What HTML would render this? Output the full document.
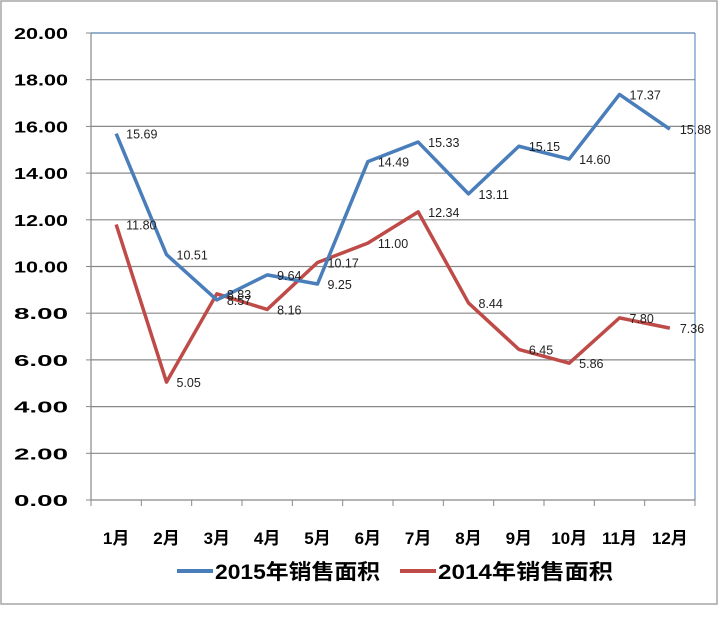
<!DOCTYPE html>
<html><head><meta charset="utf-8">
<style>
html,body{margin:0;padding:0;background:#fff;}
svg{display:block;font-family:"Liberation Sans","Noto Sans CJK SC",sans-serif;}
</style></head>
<body>
<svg id="chart" width="720" height="617" xmlns="http://www.w3.org/2000/svg">
<rect x="1" y="1" width="716" height="603" fill="#fff" stroke="#a6a6a6" stroke-width="1.5"/>
<g id="grid"></g>
<g id="axes"></g>
<g id="series"></g>
<g id="labels"></g>
<g>
<line x1="177" y1="571" x2="213" y2="571" stroke="#4a7ebb" stroke-width="4"/>
<text x="215" y="579" font-size="21" font-weight="bold" textLength="165" lengthAdjust="spacingAndGlyphs">2015年销售面积</text>
<line x1="400" y1="571" x2="436" y2="571" stroke="#be4b48" stroke-width="4"/>
<text x="438" y="579" font-size="21" font-weight="bold" textLength="175" lengthAdjust="spacingAndGlyphs">2014年销售面积</text>
</g>
</svg>
<script>
const categories=["1月","2月","3月","4月","5月","6月","7月","8月","9月","10月","11月","12月"];
const sales2015=[15.69,10.51,8.57,9.64,9.25,14.49,15.33,13.11,15.15,14.60,17.37,15.88];
const sales2014=[11.80,5.05,8.83,8.16,10.17,11.00,12.34,8.44,6.45,5.86,7.80,7.36];
const yTicks=[0,2,4,6,8,10,12,14,16,18,20];
const NS="http://www.w3.org/2000/svg";
const L=91,R=695,T=33,B=500,yMax=20;
const bw=(R-L)/categories.length;
function xs(i){return L+bw*(i+0.5);}
function ys(v){return B-(v/yMax)*(B-T);}
function mk(tag,attrs,parent){const e=document.createElementNS(NS,tag);for(const k in attrs)e.setAttribute(k,attrs[k]);parent.appendChild(e);return e;}
const grid=document.getElementById('grid'),axes=document.getElementById('axes'),ser=document.getElementById('series'),lab=document.getElementById('labels');
yTicks.forEach(v=>{
 const g=mk('line',{x1:L,x2:R,y1:ys(v),y2:ys(v),stroke:'#888','stroke-width':1.2},grid);
 
 
 const t=mk('text',{x:68,y:ys(v)+6,'font-size':16,'font-weight':'bold','text-anchor':'end',textLength:54,lengthAdjust:'spacingAndGlyphs'},axes);
 t.textContent=v.toFixed(2);
 
 
 const tk=mk('line',{x1:L-5,x2:L,y1:ys(v),y2:ys(v),stroke:'#888'},axes);
 
 
});
const ya=mk('line',{x1:L,x2:L,y1:T,y2:B,stroke:'#888','stroke-width':1.2},axes);


const rb=mk('line',{x1:R,x2:R,y1:T,y2:B,stroke:'#4a7ebb','stroke-width':1},axes);


const tb=mk('line',{x1:L,x2:R,y1:T,y2:T,stroke:'#4a7ebb','stroke-width':1},axes);


for(let i=0;i<=categories.length;i++){
 const tk=mk('line',{x1:L+bw*i,x2:L+bw*i,y1:B,y2:B+6,stroke:'#888'},axes);
 
 
}
categories.forEach((c,i)=>{
 const t=mk('text',{x:xs(i),y:544,'font-size':17,'font-weight':'bold','text-anchor':'middle'},axes);
 t.textContent=c;
 
 
});
function drawSeries(data,color,name){
 const p=mk('polyline',{points:data.map((v,i)=>xs(i)+','+ys(v)).join(' '),fill:'none',stroke:color,'stroke-width':3.5,'stroke-linejoin':'round'},ser);
 
 
 data.forEach((v,i)=>{
  const t=mk('text',{x:xs(i)+10,y:ys(v)+5,'font-size':12.5,fill:'#222'},lab);
  t.textContent=v.toFixed(2);
  
  
 });
}
drawSeries(sales2014,'#be4b48','series-2014');
drawSeries(sales2015,'#4a7ebb','series-2015');
</script>
</body></html>
